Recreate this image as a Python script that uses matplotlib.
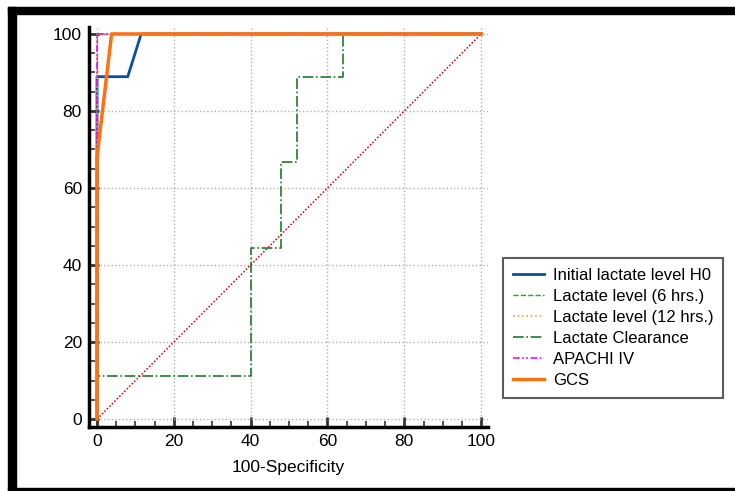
import numpy as np
import matplotlib
matplotlib.use('Agg')
import matplotlib.pyplot as plt
from matplotlib.patches import Rectangle
from matplotlib.ticker import MultipleLocator

plt.rcParams['font.family'] = ['Liberation Sans', 'DejaVu Sans']

########## Data (100-specificity, sensitivity) ##########

h0_x = [0, 0, 8, 11.5, 100]
h0_y = [0, 88.9, 88.9, 100, 100]

lac6_x = [0, 0, 100]
lac6_y = [0, 100, 100]

lac12_x = [0, 0, 100]
lac12_y = [0, 100, 100]

clear_x = [0, 0, 40, 40, 48, 48, 52, 52, 64, 64, 100]
clear_y = [0, 11.1, 11.1, 44.4, 44.4, 66.7, 66.7, 88.9, 88.9, 100, 100]

apache_x = [0, 0, 100]
apache_y = [0, 100, 100]

gcs_x = [0, 0, 3.8, 100]
gcs_y = [0, 68, 100, 100]

diag = [0, 100]

########## Plotting ##########

fig = plt.figure(figsize=(7.35, 4.91), dpi=100)
ax = fig.add_axes([0.121, 0.130, 0.543, 0.815])

ax.plot(diag, diag, color='#cc0000', ls=(0, (1, 1.3)), lw=1.1)

ax.plot(h0_x, h0_y, color='#0a50a0', lw=2, label='Initial lactate level H0')
ax.plot(lac6_x, lac6_y, color='#2ca02c', ls='--', lw=1, label='Lactate level (6 hrs.)')
ax.plot(lac12_x, lac12_y, color='#ff9a50', ls=':', lw=1.2, label='Lactate level (12 hrs.)')
ax.plot(clear_x, clear_y, color='#1f7a2a', ls='-.', lw=1.2, label='Lactate Clearance')
ax.plot(apache_x, apache_y, color='#ee11ee', ls=(0, (4, 1.5, 1, 1.5, 1, 1.5)), lw=1.2, label='APACHI IV')
ax.plot(gcs_x, gcs_y, color='#ff7010', lw=2.5, label='GCS')

ax.set_xlim(-2.1, 101.8)
ax.set_ylim(-2.1, 101.8)

ax.xaxis.set_major_locator(MultipleLocator(20))
ax.yaxis.set_major_locator(MultipleLocator(20))
ax.xaxis.set_minor_locator(MultipleLocator(5))
ax.yaxis.set_minor_locator(MultipleLocator(5))

ax.grid(True, which='major', color='#b0b0b0', ls=':', lw=1)

for s in ['top', 'right']:
    ax.spines[s].set_visible(False)
for s in ['left', 'bottom']:
    ax.spines[s].set_linewidth(2.5)
    ax.spines[s].set_color('black')

ax.tick_params(which='major', direction='in', length=7, width=2, color='#333333',
               labelsize=12.5, pad=5)
ax.tick_params(which='minor', direction='in', length=4, width=1.2, color='#333333')

ax.set_xlabel('100-Specificity', fontsize=12.5, labelpad=8)

leg = ax.legend(loc='lower left', bbox_to_anchor=(0.684, 0.189), bbox_transform=fig.transFigure,
                fontsize=12, frameon=True, fancybox=False, borderaxespad=0,
                handlelength=1.85, labelspacing=0.36, borderpad=0.6, handletextpad=0.55)
leg.get_frame().set_edgecolor('#333333')
leg.get_frame().set_linewidth(1.5)

# outer black frame
fig.patches.append(Rectangle((0.011, 0.971), 0.989, 0.015, transform=fig.transFigure,
                             color='black', zorder=0))
fig.patches.append(Rectangle((0.011, 0.002), 0.011, 0.984, transform=fig.transFigure,
                             color='black', zorder=0))
fig.patches.append(Rectangle((0.011, 0.002), 0.989, 0.004, transform=fig.transFigure,
                             color='black', zorder=0))

plt.savefig('out.png', dpi=100)
